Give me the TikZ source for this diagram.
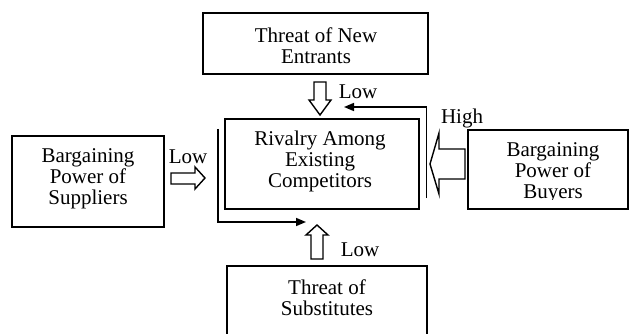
\documentclass[tikz,border=0pt]{standalone}
\usepackage{fontspec}
\setmainfont{Liberation Serif}
\usetikzlibrary{arrows.meta}
\begin{document}
\begin{tikzpicture}[x=1pt,y=-1pt,
  box/.style={draw,line width=1.6pt,inner sep=0pt},
  txt/.style={align=center,inner sep=0pt,font=\fontsize{21}{21}\selectfont},
  lbl/.style={inner sep=0pt,font=\fontsize{21}{21}\selectfont},
  blockarrow/.style={draw,line width=1.4pt,fill=white,line join=miter},
  thinarrow/.style={line width=1.6pt,-{Triangle[length=10pt,width=8pt]}}]
\useasboundingbox (0,0) rectangle (629,334);
\clip (0,0) rectangle (629,334);
% boxes
\node[box,minimum width=225pt,minimum height=61pt] (entrants) at (315.5,43.5) {};
\node[txt] (entrantsT) at (316,45.5) {Threat of New\\Entrants};
\node[box,minimum width=194pt,minimum height=90pt] (rivalry) at (322,164) {};
\node[txt] (rivalryT) at (320,161.5) {Rivalry Among\\Existing\\Competitors};
\node[box,minimum width=152pt,minimum height=91pt] (suppliers) at (88,181.5) {};
\node[txt] (suppliersT) at (88,179) {Bargaining\\Power of\\Suppliers};
\node[box,minimum width=160pt,minimum height=79pt] (buyers) at (548,169.5) {};
\begin{scope}
  \clip (470,132) rectangle (626,199);
  \node[txt] (buyersT) at (553,172.5) {Bargaining\\Power of\\Buyers};
\end{scope}
\node[box,minimum width=200pt,minimum height=90pt] (substitutes) at (327,311) {};
\node[txt] (substitutesT) at (327,298) {Threat of\\Substitutes};
% block arrows
\draw[blockarrow] (314,82) -- (326,82) -- (326,100) -- (331,100) -- (320,115) -- (309,100) -- (314,100) -- cycle;
\draw[blockarrow] (171,173) -- (195,173) -- (195,167) -- (205,178) -- (195,189) -- (195,184) -- (171,184) -- cycle;
\draw[blockarrow] (465,149) -- (439,149) -- (439,133) -- (430,164) -- (439,194) -- (439,179) -- (465,179) -- cycle;
\draw[blockarrow] (311,259) -- (311,235) -- (306,235) -- (317,225) -- (328,235) -- (323,235) -- (323,259) -- cycle;
% thin connectors
\coordinate (lstart) at (218,129);
\coordinate (lend) at (306,222);
\coordinate (rstart) at (426.5,198);
\coordinate (rend) at (344,107);
\draw[thinarrow] (lstart) |- (lend);
\draw[thinarrow] (rstart) |- (rend);
% labels
\node[lbl] (lowtop) at (358,92) {Low};
\node[lbl] (lowleft) at (188,157) {Low};
\node[lbl] (high) at (462,118) {High};
\node[lbl] (lowbottom) at (360,250) {Low};
\end{tikzpicture}
\end{document}
